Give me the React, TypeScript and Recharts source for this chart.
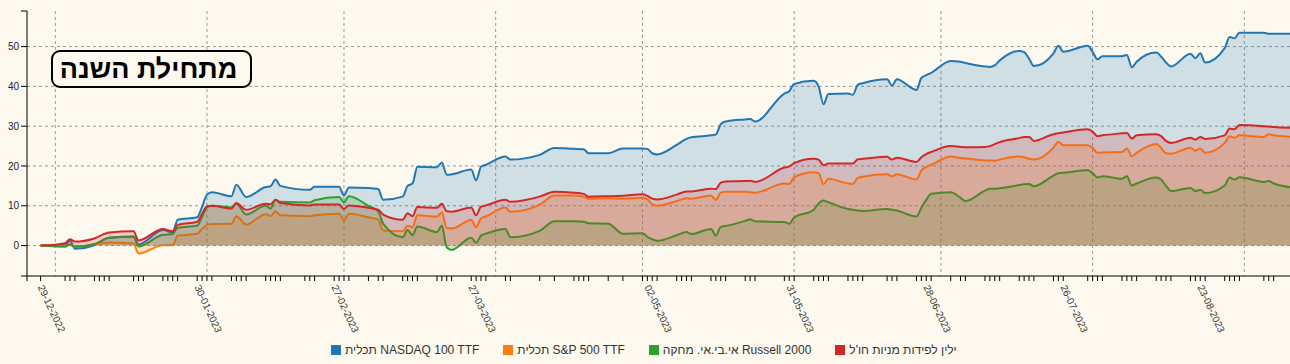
import React from 'react';
import { ComposedChart, Area, XAxis, YAxis, CartesianGrid } from 'recharts';

// trading days that carry a value (all four funds)
const dates = [
  '2022-12-29', '2023-01-03', '2023-01-04', '2023-01-05', '2023-01-09', '2023-01-12', '2023-01-17', '2023-01-18',
  '2023-01-23', '2023-01-25', '2023-01-26', '2023-01-30', '2023-01-31', '2023-02-01', '2023-02-02', '2023-02-06',
  '2023-02-07', '2023-02-09', '2023-02-13', '2023-02-14', '2023-02-15', '2023-02-16', '2023-02-22', '2023-02-23',
  '2023-02-28', '2023-03-01', '2023-03-02', '2023-03-06', '2023-03-08', '2023-03-09', '2023-03-13', '2023-03-14',
  '2023-03-15', '2023-03-16', '2023-03-20', '2023-03-21', '2023-03-22', '2023-03-23', '2023-03-27', '2023-03-28',
  '2023-03-29', '2023-03-30', '2023-04-03', '2023-04-04', '2023-04-10', '2023-04-13', '2023-04-17', '2023-04-19',
  '2023-04-20', '2023-04-24', '2023-04-27', '2023-05-01', '2023-05-02', '2023-05-03', '2023-05-04', '2023-05-08',
  '2023-05-10', '2023-05-11', '2023-05-15', '2023-05-16', '2023-05-17', '2023-05-18', '2023-05-22', '2023-05-23',
  '2023-05-24', '2023-05-30', '2023-05-31', '2023-06-01', '2023-06-05', '2023-06-06', '2023-06-07', '2023-06-08',
  '2023-06-12', '2023-06-13', '2023-06-14', '2023-06-15', '2023-06-20', '2023-06-21', '2023-06-22', '2023-06-26',
  '2023-06-27', '2023-06-28', '2023-06-29', '2023-07-03', '2023-07-05', '2023-07-06', '2023-07-10', '2023-07-11',
  '2023-07-12', '2023-07-13', '2023-07-17', '2023-07-18', '2023-07-19', '2023-07-20', '2023-07-24', '2023-07-25',
  '2023-07-26', '2023-07-31', '2023-08-01', '2023-08-02', '2023-08-03', '2023-08-07', '2023-08-08', '2023-08-09',
  '2023-08-10', '2023-08-14', '2023-08-15', '2023-08-16', '2023-08-17', '2023-08-21', '2023-08-22', '2023-08-23',
  '2023-08-24', '2023-08-28', '2023-08-29', '2023-08-30', '2023-08-31', '2023-09-05', '2023-09-06', '2023-09-07',
  '2023-09-11',
];

// % return since start of year
const nasdaq = [
  0, 0.2, 1.3, -0.8, 0.1, 2.0, 2.3, 0.3, 3.9, 3.3, 6.5, 7.1, 9.8, 12.8, 13.4, 12.4,
  15.3, 12.2, 14.7, 14.9, 16.6, 15.0, 14.0, 14.8, 14.8, 12.6, 14.6, 14.5, 14.2, 11.5, 12.3, 15.0,
  15.6, 19.8, 19.7, 20.9, 17.8, 17.9, 19.1, 16.4, 19.8, 20.3, 22.4, 21.6, 22.8, 24.5, 24.3, 24.2,
  23.2, 23.2, 24.4, 24.4, 24.3, 23.2, 22.9, 25.3, 26.8, 27.2, 27.7, 27.9, 30.5, 31.2, 31.7, 31.8,
  31.2, 38.2, 38.8, 40.6, 41.4, 40.0, 35.5, 38.1, 38.2, 37.9, 40.4, 40.8, 41.8, 40.2, 41.8, 39.1,
  42.1, 42.8, 43.4, 46.4, 46.2, 45.9, 45.0, 44.9, 45.3, 46.5, 48.9, 48.6, 47.0, 45.1, 48.3, 50.2,
  48.7, 50.2, 48.7, 46.8, 47.6, 47.6, 47.9, 44.8, 46.2, 48.5, 47.5, 46.0, 45.0, 48.2, 47.1, 48.3,
  46.0, 49.6, 52.4, 52.1, 53.5, 53.5, 53.2, 53.2, 53.2,
];
const sp500 = [
  0, -0.1, 0.3, -0.3, 0.3, 0.8, 0.5, -2.0, 0.1, 0.1, 2.5, 3.0, 4.2, 5.2, 5.4, 5.5,
  7.4, 5.3, 7.9, 7.4, 8.6, 7.6, 7.4, 7.6, 8.0, 6.3, 8.0, 7.1, 6.5, 3.8, 3.6, 5.0,
  4.6, 7.6, 7.3, 8.3, 4.4, 4.3, 6.4, 4.6, 6.8, 7.3, 9.6, 8.5, 10.3, 12.6, 12.6, 12.3,
  11.8, 11.9, 11.8, 12.0, 11.6, 10.4, 10.0, 11.2, 11.9, 11.8, 12.6, 11.5, 13.3, 13.5, 13.5, 13.4,
  13.3, 15.6, 15.5, 17.2, 18.4, 18.2, 15.4, 16.8, 15.6, 15.5, 17.0, 17.3, 17.9, 17.4, 17.9, 16.6,
  18.9, 19.8, 20.3, 22.4, 22.0, 21.9, 21.4, 21.4, 21.3, 21.6, 22.4, 22.2, 21.8, 21.6, 24.6, 26.1,
  25.2, 25.2, 24.6, 23.3, 23.4, 23.5, 24.4, 22.4, 23.3, 25.5, 24.5, 23.2, 23.1, 24.6, 23.8, 24.4,
  23.3, 25.8, 27.5, 27.1, 27.7, 27.3, 28.0, 27.7, 27.3,
];
const russell = [
  0, -0.3, 0.3, -0.3, 0.4, 2.0, 2.2, -0.2, 2.7, 2.9, 4.5, 5.0, 7.2, 9.6, 10.0, 9.6,
  10.6, 7.8, 10.0, 9.3, 11.5, 11.0, 10.8, 11.4, 12.2, 10.9, 12.4, 10.0, 8.6, 5.5, 2.1, 3.9,
  2.6, 4.8, 3.4, 5.0, -0.5, -1.1, 2.0, 0.7, 2.5, 3.0, 4.2, 2.1, 3.7, 6.1, 6.1, 6.0,
  5.6, 5.5, 3.0, 3.1, 2.2, 1.6, 1.2, 2.6, 3.4, 2.9, 4.2, 2.5, 4.7, 4.9, 6.2, 6.6,
  6.1, 5.9, 5.5, 7.0, 9.0, 10.6, 11.3, 10.9, 9.2, 9.0, 8.8, 8.7, 9.2, 9.0, 8.8, 7.3,
  9.5, 11.5, 13.0, 13.4, 12.0, 11.2, 13.8, 14.3, 14.3, 14.4, 15.2, 15.4, 15.5, 14.9, 17.6, 18.2,
  18.3, 18.9, 18.2, 17.1, 17.4, 16.8, 17.4, 15.1, 15.6, 17.1, 16.6, 15.0, 13.7, 14.5, 13.7, 14.0,
  13.2, 15.1, 17.1, 16.6, 17.2, 16.0, 16.2, 15.6, 14.6,
];
const yelin = [
  0, 0.6, 1.6, 1.0, 1.8, 3.3, 3.6, 1.3, 4.2, 3.6, 5.2, 6.0, 8.0, 9.9, 10.0, 9.3,
  10.7, 9.0, 10.5, 10.4, 11.5, 10.7, 10.1, 10.3, 10.3, 9.2, 10.1, 9.5, 9.0, 7.8, 6.5, 8.1,
  7.4, 9.7, 9.5, 10.5, 8.6, 8.5, 9.6, 7.6, 9.8, 10.1, 11.5, 11.0, 12.3, 13.5, 13.3, 13.0,
  12.3, 12.4, 12.5, 12.9, 12.5, 11.8, 11.6, 12.8, 13.6, 13.6, 14.3, 14.2, 15.8, 16.1, 16.2, 16.3,
  16.0, 19.6, 19.9, 20.7, 21.8, 21.6, 20.2, 20.6, 20.6, 20.6, 21.7, 21.8, 22.3, 21.6, 22.1, 21.0,
  22.2, 23.0, 23.5, 25.0, 24.8, 24.7, 24.8, 25.0, 25.5, 26.0, 27.0, 27.3, 27.3, 26.3, 28.0, 28.2,
  28.4, 29.2, 28.6, 27.5, 27.7, 28.2, 28.3, 26.9, 27.7, 28.0, 27.5, 26.3, 25.8, 27.1, 26.6, 27.3,
  26.8, 27.7, 29.4, 29.2, 30.3, 30.0, 29.9, 29.8, 29.6,
];

const seriesKeys = ['nasdaq', 'sp500', 'russell', 'yelin'];
const seriesNames = ['תכלית NASDAQ 100 TTF', 'תכלית S&P 500 TTF', 'אי.בי.אי. מחקה Russell 2000', "ילין לפידות מניות חו'ל"];
const seriesColors = ['#1f77b4', '#ff7f0e', '#2ca02c', '#d62728'];

// small ticks: every trading day in the data set
const tradingDays = [
  '2022-12-29',
  '2023-01-03', '2023-01-04', '2023-01-05', '2023-01-09', '2023-01-10', '2023-01-11', '2023-01-12',
  '2023-01-17', '2023-01-18', '2023-01-19', '2023-01-23', '2023-01-24', '2023-01-25', '2023-01-26',
  '2023-01-30', '2023-01-31', '2023-02-01', '2023-02-02', '2023-02-06', '2023-02-07', '2023-02-08', '2023-02-09',
  '2023-02-13', '2023-02-14', '2023-02-15', '2023-02-16', '2023-02-21', '2023-02-22', '2023-02-23',
  '2023-02-27', '2023-02-28', '2023-03-01', '2023-03-02', '2023-03-06', '2023-03-08', '2023-03-09',
  '2023-03-13', '2023-03-14', '2023-03-15', '2023-03-16', '2023-03-20', '2023-03-21', '2023-03-22', '2023-03-23',
  '2023-03-27', '2023-03-28', '2023-03-29', '2023-03-30', '2023-04-03', '2023-04-04', '2023-04-10', '2023-04-13',
  '2023-04-17', '2023-04-18', '2023-04-19', '2023-04-20', '2023-04-24', '2023-04-27',
  '2023-05-01', '2023-05-02', '2023-05-03', '2023-05-04', '2023-05-08', '2023-05-09', '2023-05-10', '2023-05-11',
  '2023-05-15', '2023-05-16', '2023-05-17', '2023-05-18', '2023-05-22', '2023-05-23', '2023-05-24',
  '2023-05-30', '2023-05-31', '2023-06-01', '2023-06-05', '2023-06-06', '2023-06-07', '2023-06-08',
  '2023-06-12', '2023-06-13', '2023-06-14', '2023-06-15', '2023-06-20', '2023-06-21', '2023-06-22',
  '2023-06-26', '2023-06-27', '2023-06-28', '2023-06-29', '2023-07-03', '2023-07-05', '2023-07-06',
  '2023-07-10', '2023-07-11', '2023-07-12', '2023-07-13', '2023-07-17', '2023-07-18', '2023-07-19', '2023-07-20',
  '2023-07-24', '2023-07-25', '2023-07-26', '2023-07-31', '2023-08-01', '2023-08-02', '2023-08-03',
  '2023-08-07', '2023-08-08', '2023-08-09', '2023-08-10', '2023-08-14', '2023-08-15', '2023-08-16', '2023-08-17',
  '2023-08-21', '2023-08-22', '2023-08-23', '2023-08-24', '2023-08-28', '2023-08-29', '2023-08-30', '2023-08-31',
  '2023-09-05', '2023-09-06', '2023-09-07', '2023-09-11',
];
const labelDates = ['2022-12-29', '2023-01-30', '2023-02-27', '2023-03-27', '2023-05-02', '2023-05-31', '2023-06-28', '2023-07-26', '2023-08-23'];
const monthStarts = ['2023-01-01', '2023-02-01', '2023-03-01', '2023-04-01', '2023-05-01', '2023-06-01', '2023-07-01', '2023-08-01', '2023-09-01'];
const yTicks = [0, 10, 20, 30, 40, 50];

const BG = '#fdf9ef';
const FONT = '"Liberation Sans", Arial, sans-serif';
const DAY = 86400000;
const JAN1 = Date.UTC(2023, 0, 1);
const PX_DAY = 4.893;
const CHART_W = 1310;
const PLOT_LEFT = 27;
const T_START = JAN1 - ((55.3 - PLOT_LEFT) / PX_DAY) * DAY;
const T_END = T_START + ((CHART_W - PLOT_LEFT) / PX_DAY) * DAY;
const Y_MIN = -7.64;
const Y_MAX = 58.94;

const rows = dates.map((d, i) => ({
  t: Date.parse(d),
  nasdaq: nasdaq[i],
  sp500: sp500[i],
  russell: russell[i],
  yelin: yelin[i],
}));

const fmt = (s: string) => s.slice(8, 10) + '-' + s.slice(5, 7) + '-' + s.slice(0, 4);
const labelMap = new Map(labelDates.map(d => [Date.parse(d), fmt(d)]));

function DateTick(props: any) {
  const { x, y, payload } = props;
  const label = labelMap.get(payload.value);
  if (!label) return <g />;
  return (
    <text transform={`translate(${x - 3},${y + 4}) rotate(65)`} fontSize={10} fill="#333" fontFamily={FONT} textAnchor="start">
      {label}
    </text>
  );
}

export default function App() {
  return (
    <div style={{ position: 'fixed', left: 0, top: 0, width: 1290, height: 364, overflow: 'hidden', background: BG, fontFamily: FONT }}>
      <ComposedChart width={CHART_W} height={364} data={rows} margin={{ top: 11, right: 0, bottom: 0, left: 0 }}>
        <CartesianGrid stroke="#999" strokeDasharray="3 3"
          horizontalValues={yTicks} verticalValues={monthStarts.map(d => Date.parse(d))} />
        <XAxis type="number" dataKey="t" domain={[T_START, T_END]} allowDataOverflow
          ticks={[T_START, ...tradingDays.map(d => Date.parse(d))]} interval={0}
          height={88} tickSize={5} tick={(p: any) => <DateTick {...p} />}
          axisLine={{ stroke: '#000' }} tickLine={{ stroke: '#000' }} />
        <YAxis type="number" domain={[Y_MIN, Y_MAX]} allowDataOverflow width={PLOT_LEFT}
          ticks={[Y_MIN, ...yTicks, Y_MAX]} interval={0} tickSize={6}
          tickFormatter={(v: number) => (yTicks.includes(v) ? String(v) : '')}
          tick={{ fontSize: 10, fill: '#222', fontFamily: FONT }}
          axisLine={{ stroke: '#000' }} tickLine={{ stroke: '#000' }} />
        {seriesKeys.map((k, i) => (
          <Area key={k} type="monotone" dataKey={k} baseValue={0}
            stroke={seriesColors[i]} strokeWidth={2} fill={seriesColors[i]} fillOpacity={0.2}
            dot={false} activeDot={false} isAnimationActive={false} />
        ))}
      </ComposedChart>

      <div style={{
        position: 'absolute', left: 51, top: 50, width: 201, height: 38, boxSizing: 'border-box',
        border: '2.5px solid #000', borderRadius: 9, background: BG, display: 'flex',
        alignItems: 'center', justifyContent: 'center', direction: 'rtl', paddingRight: 6,
        fontSize: 27, fontWeight: 'bold', color: '#000',
      }}>
        מתחילת השנה
      </div>

      <div style={{ position: 'absolute', left: 331, top: 344, height: 12, display: 'flex', alignItems: 'center', gap: 24, fontSize: 12, color: '#333', whiteSpace: 'nowrap' }}>
        {seriesNames.map((name, i) => (
          <div key={name} style={{ display: 'flex', alignItems: 'center', gap: 4 }}>
            <span style={{ display: 'inline-block', width: 10, height: 10, background: seriesColors[i] }} />
            <span>{name}</span>
          </div>
        ))}
      </div>
    </div>
  );
}
